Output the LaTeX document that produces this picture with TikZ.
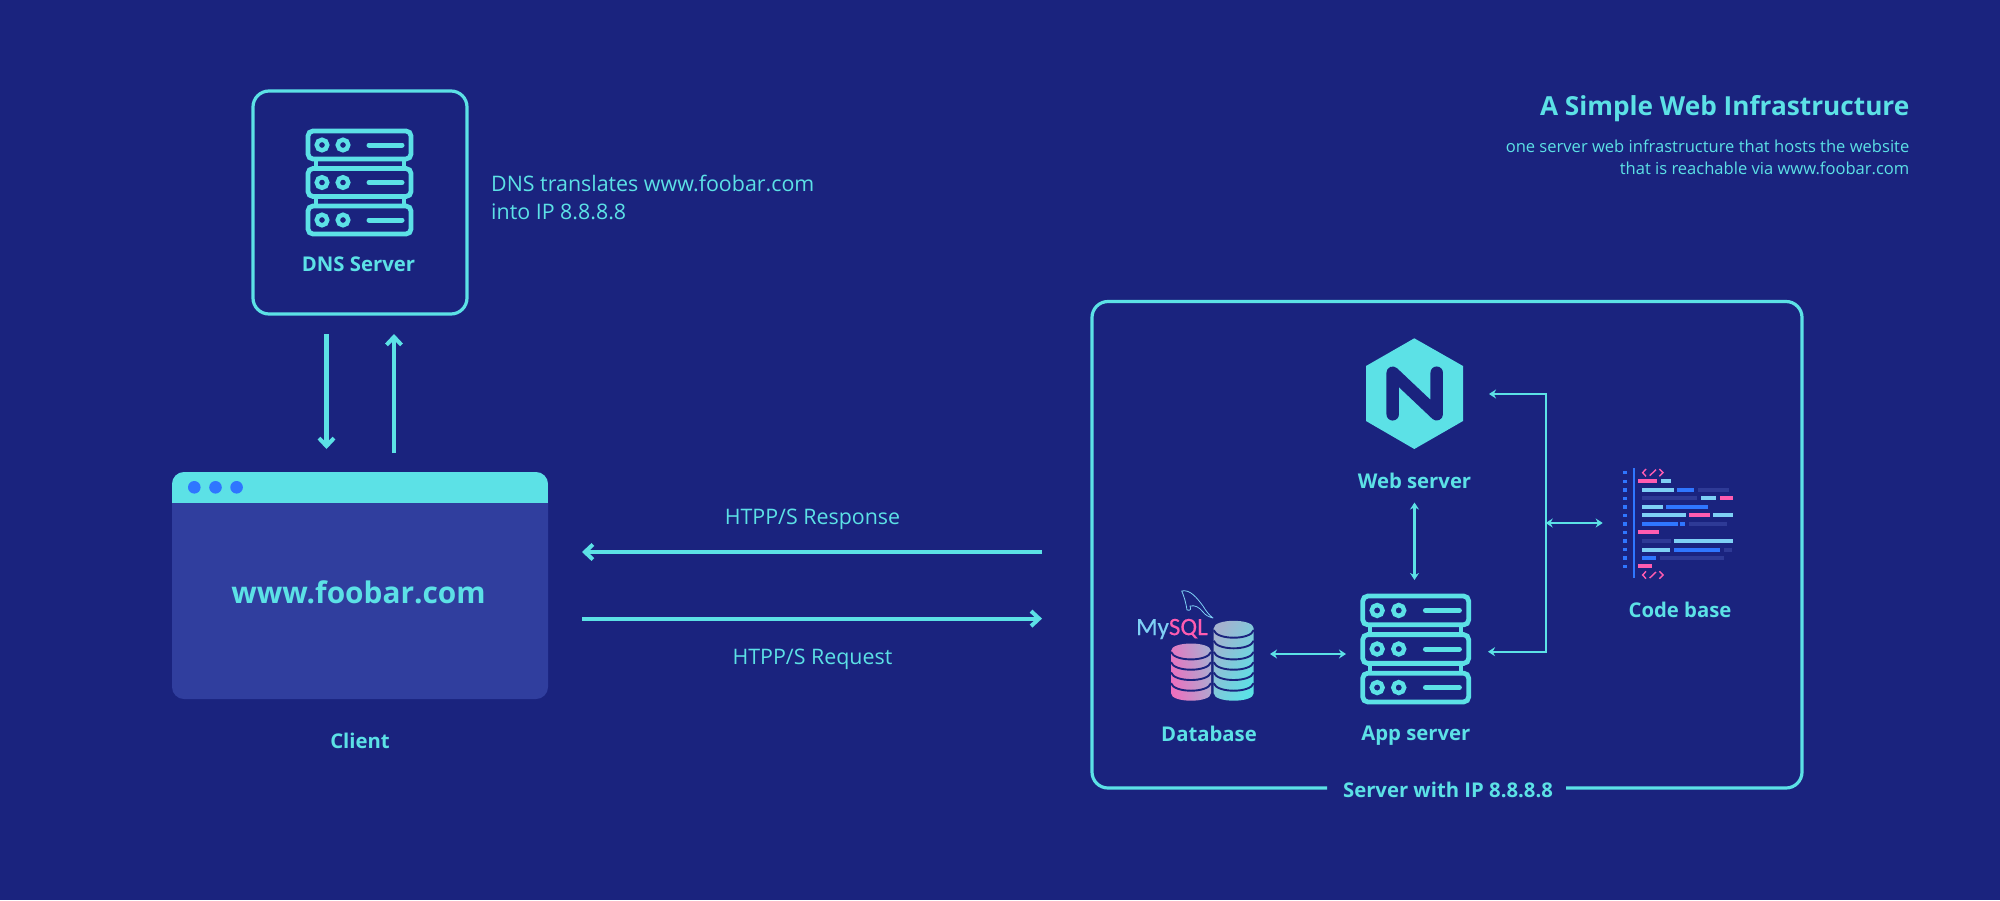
\documentclass[tikz,border=0pt]{standalone}
\usepackage{fontspec}
\setmainfont{Open Sans}
\newfontfamily\logofont[FakeBold=0.4]{Carlito}
\usetikzlibrary{arrows.meta}
\definecolor{bgc}{HTML}{1A237E}
\definecolor{cy}{HTML}{5CE1E6}
\definecolor{bodyc}{HTML}{303E9E}
\definecolor{bluec}{HTML}{2F76FF}
\definecolor{pinkc}{HTML}{FF5CB0}
\definecolor{lightc}{HTML}{7ED0F5}
\definecolor{dimc}{HTML}{2E3A96}
\definecolor{stackA}{HTML}{EC6FBE}
\definecolor{stackB}{HTML}{A9AED2}
\definecolor{stackC}{HTML}{A4B2CF}
\tikzset{
  x=1pt,y=-1pt,
  line/.style={draw=cy,line width=#1},
  line/.default=3.2pt,
  lbl/.style={text=cy,font=\fontsize{20.3}{25}\selectfont\bfseries,inner sep=0pt,anchor=center},
  txt/.style={text=cy,font=\fontsize{21.4}{28}\selectfont,inner sep=0pt},
  big/.style={-{Straight Barb[length=8pt,width=15pt,line width=4pt]},draw=cy,line width=4.2pt},
  small/.style={{Stealth[length=7pt,width=9pt]}-{Stealth[length=7pt,width=9pt]},draw=cy,line width=2.2pt},
  rack/.style={draw=cy,line width=4.8pt,rounded corners=5pt},
  conn/.style={draw=cy,line width=4pt},
  hub/.style={draw=cy,line width=4.4pt},
  barline/.style={draw=cy,line width=5pt,line cap=round},
  tag/.style={draw=pinkc,line width=1.4pt},
}
% server icon: top-left at (#1,#2), scale #3 (107 px wide at 1)
\newcommand{\serverfig}[3]{%
  \begin{scope}[shift={(#1,#2)},scale=#3]
    \foreach \yy in {0,37.5,75}{
      \draw[rack] (2,\yy+2) rectangle (105,\yy+30);
      \draw[hub] (16,\yy+16) circle (5.3);
      \draw[hub] (37,\yy+16) circle (5.3);
      \draw[barline] (63,\yy+16) -- (96,\yy+16);
    }
    \foreach \yy in {31,68.5}{
      \draw[conn] (9.5,\yy) -- (9.5,\yy+6);
      \draw[conn] (97.5,\yy) -- (97.5,\yy+6);
    }
  \end{scope}}
\newcommand{\codebar}[4]{\fill[#4] ({1590+#1/3},{450+#3/3-1.9}) rectangle ({1590+#2/3},{450+#3/3+1.9});}
\newcommand{\codetag}[1]{%
  \draw[tag] ({1590+168/3},{450+#1/3-8/3-1}) -- ({1590+158/3},{450+#1/3}) -- ({1590+168/3},{450+#1/3+8/3+1});
  \draw[tag] ({1590+179/3},{450+#1/3+9/3}) -- ({1590+198/3},{450+#1/3-9/3});
  \draw[tag] ({1590+208/3},{450+#1/3-8/3-1}) -- ({1590+219/3},{450+#1/3}) -- ({1590+208/3},{450+#1/3+8/3+1});}
% stack: left x #1, top ellipse centre y #2, colours #3 #4, angle #5
\newcommand{\stackbody}[5]{%
  \shade[left color=#3,right color=#4,shading angle=#5]
    (#1,#2) -- (#1,693.2) .. controls (#1,703.2) and (#1+40,703.2) .. (#1+40,693.2) -- (#1+40,#2)
    .. controls (#1+40,#2-10) and (#1,#2-10) .. (#1,#2) -- cycle;
}
\newcommand{\stackarc}[2]{%
  \draw[bgc,line width=1.9pt] (#1,#2-7.5) .. controls (#1+3,#2+2.5) and (#1+37,#2+2.5) .. (#1+40,#2-7.5);}
\begin{document}
\begin{tikzpicture}
\useasboundingbox (0,0) rectangle (2000,900);
\fill[bgc] (0,0) rectangle (2000,900);

% DNS
\node[name=dns,line,rounded corners=16pt,minimum width=214pt,minimum height=223pt,inner sep=0pt] at (360,202.5) {};
\serverfig{306}{129}{1}
\node[lbl,name=dnslabel] at (358.5,264) {DNS Server};
\node[txt,name=dnsnote,anchor=west,align=left] at (491,197.5) {DNS translates www.foobar.com\\into IP 8.8.8.8};

% Title
\node[text=cy,inner sep=0pt,anchor=east,name=title,font=\fontsize{26.2}{32}\selectfont\bfseries] at (1909.5,108.5) {A Simple Web Infrastructure};
\node[txt,name=sub,anchor=east,align=right,font=\fontsize{16.55}{22}\selectfont] at (1909.5,157.5) {one server web infrastructure that hosts the website\\that is reachable via www.foobar.com};

% DNS arrows
\coordinate (d1) at (326.5,334); \coordinate (d2) at (326.5,449);
\coordinate (u1) at (394,453); \coordinate (u2) at (394,334);
\draw[big] (d1) -- (d2);
\draw[big] (u1) -- (u2);

% Client browser
\node[name=client,fill=bodyc,rounded corners=12pt,minimum width=376pt,minimum height=227pt,inner sep=0pt] at (360,585.5) {};
\begin{scope}
  \clip[rounded corners=12pt] (172,472) rectangle (548,699);
  \fill[cy] (172,472) rectangle (548,503);
\end{scope}
\foreach \xx in {194.3,215.5,236.6}{\fill[bluec] (\xx,487.3) circle (6.3);}
\node[lbl,name=site,font=\fontsize{29.8}{34}\selectfont\bfseries] at (358.5,592) {www.foobar.com};
\node[lbl,name=clientlbl] at (360,741) {Client};

% HTTP arrows
\coordinate (r1) at (1042,552); \coordinate (r2) at (582,552);
\coordinate (q1) at (582,618.6); \coordinate (q2) at (1042,618.6);
\draw[big] (r1) -- (r2);
\draw[big] (q1) -- (q2);
\node[txt,name=resp] at (812.5,519) {HTPP/S Response};
\node[txt,name=requ] at (812.5,659.5) {HTPP/S Request};

% Server box with gap
\draw[line,rounded corners=16pt] (1327,788) -- (1092,788) -- (1092,301.5) -- (1802,301.5) -- (1802,788) -- (1566,788);
\node[lbl,name=srv] at (1448,789.5) {Server with IP 8.8.8.8};

% Nginx
\fill[cy] (1414.3,338.3) -- (1463,366) -- (1463,421) -- (1414.3,449) -- (1366,421) -- (1366,366) -- cycle;
\draw[bgc,line width=12.5pt,line cap=round,line join=round] (1392.7,414.3) -- (1392.7,372.7) -- (1436.7,414.3) -- (1436.7,372.7);
\node[lbl,name=web] at (1414.5,481) {Web server};

% App server
\serverfig{1360.7}{594}{1.028}
\node[lbl,name=app] at (1415.8,735.5) {App server};

% Database stacks
\stackbody{1171}{651}{stackA}{stackB}{100}
\stackbody{1213.7}{628.3}{stackC}{cy}{60}
\foreach \yy in {659.4,669.7,680,690.7}{\stackarc{1171}{\yy}}
\foreach \yy in {637.7,648.3,659.4,669.7,680,690.7}{\stackarc{1213.7}{\yy}}
\node[inner sep=0pt,anchor=west,name=mysql,font=\logofont\fontsize{25}{30}\selectfont] at (1136,629) {\textcolor{lightc}{My}\textcolor{pinkc}{SQL}};
\draw[lightc,line width=.8pt,line join=round] (1181.7,591) .. controls (1190,589) and (1197,598) .. (1203,606) .. controls (1206,611) and (1209,615) .. (1213,618) .. controls (1209,617) and (1205,615) .. (1203,612) .. controls (1199,607) and (1195,605) .. (1190,606) .. controls (1191,609) and (1191,611) .. (1187,610) .. controls (1186,603) and (1184,596) .. (1181.7,591) -- cycle;
\node[lbl,name=db] at (1209,733.4) {Database};

% Code base
\foreach \yy in {68,94,120,145,171,196,222,247,273,299,324,349}{
  \fill[bluec] ({1624.7-1.8},{450+\yy/3-1.8}) rectangle ({1624.7+1.8},{450+\yy/3+1.8});}
\fill[bluec] (1632.6,468) rectangle (1634.8,578.3);
\codetag{68}\codetag{375}
\codebar{144}{202}{94}{pinkc}\codebar{212}{242}{94}{lightc}
\codebar{157}{252}{120}{lightc}\codebar{262}{313}{120}{bluec}\codebar{323}{417}{120}{dimc}
\codebar{157}{322}{145}{dimc}\codebar{333}{379}{145}{lightc}\codebar{389}{429}{145}{pinkc}
\codebar{157}{218}{171}{lightc}\codebar{228}{353}{171}{bluec}
\codebar{157}{288}{196}{lightc}\codebar{298}{360}{196}{pinkc}\codebar{370}{429}{196}{lightc}
\codebar{157}{264}{222}{bluec}\codebar{269}{285}{222}{bluec}\codebar{298}{410}{222}{dimc}
\codebar{144}{207}{247}{pinkc}
\codebar{157}{243}{273}{dimc}\codebar{253}{429}{273}{lightc}
\codebar{157}{241}{299}{lightc}\codebar{251}{390}{299}{bluec}\codebar{402}{426}{299}{dimc}
\codebar{157}{199}{324}{bluec}\codebar{209}{402}{324}{dimc}
\codebar{144}{185}{349}{pinkc}
\node[lbl,name=code] at (1680,610) {Code base};

% Small connectors
\coordinate (w1) at (1414.5,502.5); \coordinate (w2) at (1414.5,580);
\draw[small] (w1) -- (w2);
\coordinate (b1) at (1270,654); \coordinate (b2) at (1346,654);
\draw[small] (b1) -- (b2);
\coordinate (t1) at (1489,394); \coordinate (t2) at (1545.7,394); \coordinate (t3) at (1545.7,651.7); \coordinate (t4) at (1488,651.7);
\draw[small] (t1) -- (t2) -- (t3) -- (t4);
\coordinate (c1) at (1545.7,523); \coordinate (c2) at (1602.7,523);
\draw[small] (c1) -- (c2);
\end{tikzpicture}
\end{document}
